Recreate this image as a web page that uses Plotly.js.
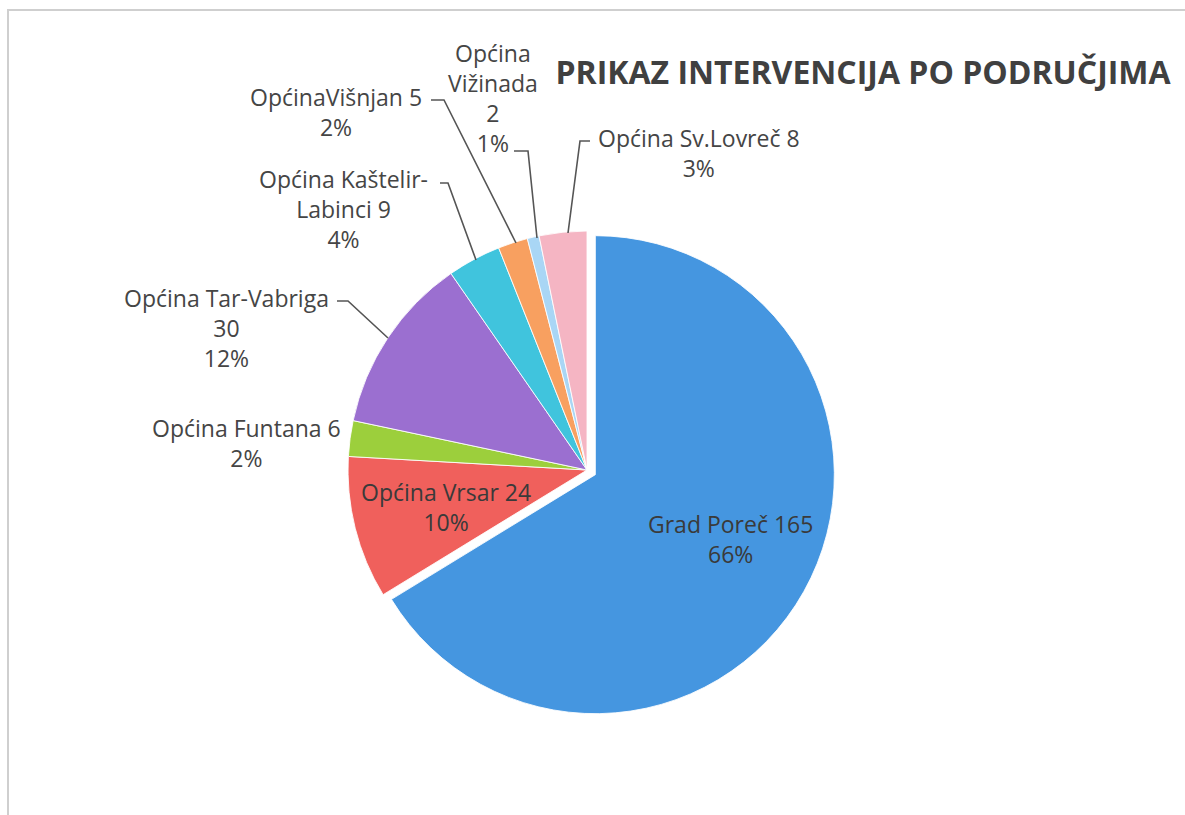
<!DOCTYPE html>
<html>
<head>
<meta charset="utf-8">
<script src="https://cdn.plot.ly/plotly-3.0.1.min.js"></script>
<style>html,body{margin:0;padding:0;background:#fff;}#chart{width:1185px;height:815px;}</style>
</head>
<body>
<div id="chart"></div>
<script>
// ---- data ----
const areas = ["Grad Poreč", "Općina Vrsar", "Općina Funtana", "Općina Tar-Vabriga",
               "Općina Kaštelir-Labinci", "Općina Višnjan", "Općina Vižinada", "Općina Sv.Lovreč"];
const interventions = [165, 24, 6, 30, 9, 5, 2, 8];
// label wording as printed on the chart (line breaks as in the picture)
const labelNames = ["Grad Poreč 165", "Općina Vrsar 24", "Općina Funtana 6", "Općina Tar-Vabriga<br>30",
                    "Općina Kaštelir-<br>Labinci 9", "OpćinaVišnjan 5", "Općina<br>Vižinada<br>2", "Općina Sv.Lovreč 8"];
const sliceColors = ["#4596e0", "#f0605c", "#9ccf3c", "#9b6fd0", "#40c4dd", "#f8a060", "#a9d6f5", "#f5b5c3"];
const pulls = [0.04, 0, 0, 0, 0, 0, 0, 0];
const chartTitle = "PRIKAZ INTERVENCIJA PO PODRUČJIMA";

// ---- label placement (pixel coordinates on an invisible overlay axis) ----
const labelPos = [[730, 539], [446, 507], [246, 443], [226, 328], [343, 209], [336, 112], [493, 98], [699, 153]];
const leaderPaths = [
  null, null, null,
  [[337, 301], [348, 301], [388, 338]],
  [[440, 183], [448, 183], [476, 260]],
  [[431, 100], [444, 100], [516, 243]],
  [[514, 151], [528, 151], [537, 238]],
  [[590, 141], [580, 141], [568, 233]]
];

const total = interventions.reduce((a, b) => a + b, 0);
const annotations = areas.map((a, i) => ({
  x: labelPos[i][0], y: labelPos[i][1], xref: 'x', yref: 'y',
  text: labelNames[i] + '<br>' + Math.round(interventions[i] / total * 100) + '%',
  showarrow: false, xanchor: 'center', yanchor: 'middle', align: 'center',
  font: {family: 'Open Sans, sans-serif', size: 23, color: (i < 2 ? '#3a3a3a' : '#454545')}
}));

const shapes = [{
  type: 'rect', xref: 'x', yref: 'y', x0: 8, y0: 10, x1: 1195, y1: 825,
  line: {color: '#cfcfcf', width: 2}, layer: 'below'
}];
leaderPaths.forEach(p => {
  if (!p) return;
  shapes.push({
    type: 'path', xref: 'x', yref: 'y',
    path: 'M' + p.map(q => q[0] + ',' + q[1]).join(' L'),
    line: {color: '#555555', width: 1.6}
  });
});

const W = 1185, H = 815;
const cx = 587, cy = 470, r = 239, maxPull = 0.04;
const half = r * (1 + maxPull);

const pie = {
  type: 'pie', labels: areas, values: interventions, sort: false, direction: 'clockwise', rotation: 0,
  pull: pulls, textinfo: 'none', hoverinfo: 'label+value+percent',
  marker: {colors: sliceColors, line: {color: 'rgba(255,255,255,0.85)', width: 1}},
  domain: {x: [(cx - half) / W, (cx + half) / W], y: [(H - cy - half) / H, (H - cy + half) / H]},
  showlegend: false
};
const overlay = {type: 'scatter', x: [], y: [], showlegend: false, hoverinfo: 'skip'};

const layout = {
  width: W, height: H, margin: {l: 0, r: 0, t: 0, b: 0},
  paper_bgcolor: '#ffffff', plot_bgcolor: 'rgba(0,0,0,0)',
  title: {text: '<b>' + chartTitle + '</b>', x: 863 / W, xanchor: 'center', y: 1 - 73 / H, yanchor: 'middle',
          font: {family: 'Open Sans, sans-serif', size: 32, color: '#404040'}},
  xaxis: {range: [0, W], visible: false, fixedrange: true},
  yaxis: {range: [H, 0], visible: false, fixedrange: true},
  annotations: annotations, shapes: shapes, showlegend: false
};

Plotly.newPlot('chart', [overlay, pie], layout, {displayModeBar: false, staticPlot: true});
</script>
</body>
</html>
